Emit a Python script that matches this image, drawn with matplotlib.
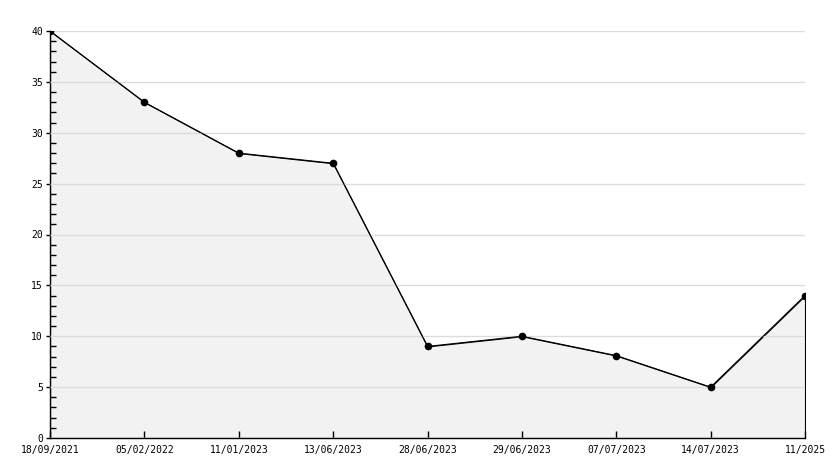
import matplotlib
matplotlib.use("Agg")
import matplotlib.pyplot as plt
from matplotlib.ticker import MultipleLocator

labels = ["18/09/2021", "05/02/2022", "11/01/2023", "13/06/2023", "28/06/2023",
          "29/06/2023", "07/07/2023", "14/07/2023", "11/2025"]
values = [40, 33, 28, 27, 9, 10, 8.1, 5, 14]

plt.rcParams['font.family'] = ['DejaVu Sans Mono']
fig = plt.figure(figsize=(8.34, 4.68), dpi=100)
ax = fig.add_axes([50/834, 1-438/468, 755/834, 407/468])

x = list(range(len(values)))
ax.fill_between(x, values, 0, facecolor="#f2f2f2", edgecolor="black", linewidth=0.8, zorder=0)
ax.plot(x, values, color="black", linewidth=0.8, marker="o", markersize=4.5, zorder=3)

ax.set_xlim(0, len(values)-1)
ax.set_ylim(0, 40)
ax.set_xticks(x)
ax.set_xticklabels(labels)
ax.yaxis.set_major_locator(MultipleLocator(5))
ax.yaxis.set_minor_locator(MultipleLocator(1))
ax.yaxis.grid(True, which="major", color="#dcdcdc", linewidth=1)
ax.set_axisbelow(False)

for s in ["top", "right"]:
    ax.spines[s].set_visible(False)
ax.spines["left"].set_linewidth(1)
ax.spines["bottom"].set_linewidth(1)
ax.tick_params(axis="y", which="major", direction="out", length=3, width=1, labelsize=7, pad=2)
ax.tick_params(axis="y", which="minor", direction="in", length=4, width=1)
ax.tick_params(axis="x", which="major", direction="in", length=5, width=1, labelsize=7, pad=5)

fig.savefig("out.png", dpi=100)
